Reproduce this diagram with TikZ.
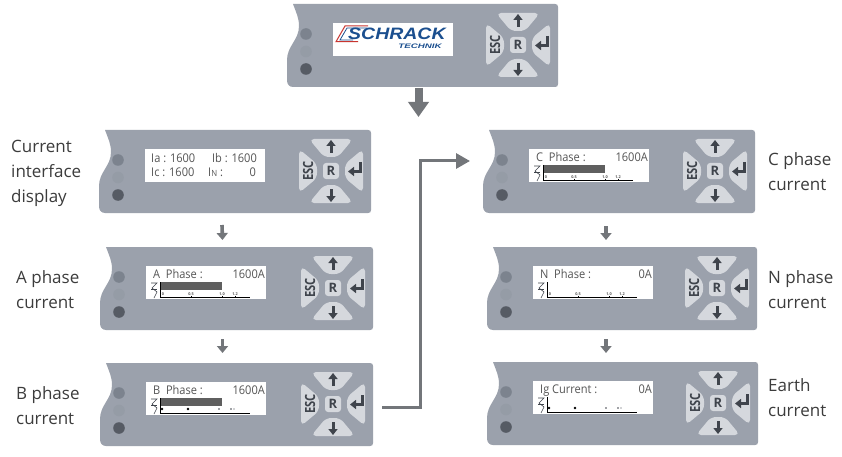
\documentclass[tikz,border=0pt]{standalone}
\usepackage{fontspec}
\setmainfont{Open Sans}
\newfontfamily\logofont{Liberation Sans}
\usetikzlibrary{arrows.meta,calc}
\definecolor{panelc}{HTML}{9BA1AC}
\definecolor{btnc}{HTML}{D5D8DD}
\definecolor{glyphc}{HTML}{3F444C}
\definecolor{ledone}{HTML}{7C838E}
\definecolor{ledtwo}{HTML}{959CA6}
\definecolor{ledthree}{HTML}{565B64}
\definecolor{arrowc}{HTML}{73767A}
\definecolor{labelc}{HTML}{3C3C3C}
\definecolor{scrc}{HTML}{555555}
\definecolor{barc}{HTML}{5F5F5F}
\definecolor{logoblue}{HTML}{1B4F8F}
\definecolor{logored}{HTML}{C8342F}
\tikzset{
 panelshape/.style={fill=panelc,draw=none},
 btnshape/.style={fill=btnc,draw=none,rounded corners=5pt},
 keyglyph/.style={line width=3pt,draw=glyphc,-{Triangle[width=9pt,length=6pt]}},
 scrtext/.style={font=\fontsize{12}{13}\selectfont,text=scrc,inner sep=0pt,xscale=0.92},
 ticktext/.style={font=\fontsize{3.8}{4}\selectfont\bfseries,text=scrc,inner sep=0pt},
 sidelabel/.style={font=\fontsize{17}{25}\selectfont,text=labelc,inner sep=0pt,align=left,anchor=north west},
 smallarrow/.style={draw=arrowc,line width=3.6pt,-{Triangle[width=11pt,length=7pt]}},
 bigarrow/.style={draw=arrowc,line width=8pt,-{Triangle[width=20pt,length=15pt]}},
 longarrow/.style={draw=arrowc,line width=3pt,-{Triangle[width=15pt,length=14pt]}},
 anchorbox/.style={inner sep=0pt,outer sep=0pt,anchor=north west},
}
% #1 name, #2 x, #3 y, #4 width, #5 screen content
\newcommand\mypanel[5]{%
\begin{scope}[shift={(#2,#3)}]
 \fill[panelshape] (0,0) .. controls (3,8) and (6,14) .. (6,22) .. controls (6,36) and (-6,42) .. (-6,56)
   -- (-6,76) .. controls (-6,80) and (-4,83) .. (0,83) -- (#4-3,83) .. controls (#4-1,83) and (#4,82) .. (#4,80)
   -- (#4,3) .. controls (#4,1) and (#4-1,0) .. (#4-3,0) -- cycle;
 \node[anchorbox,minimum width=#4pt,minimum height=83pt] (#1) at (0,0) {};
 \fill[ledone] (13,30) circle (5.8);
 \fill[ledtwo] (13,47.5) circle (5.8);
 \fill[ledthree] (13,65) circle (5.8);
 \begin{scope}[shift={(#4-40,41)}]
  \fill[btnshape] (-22,-32) -- (22,-32) -- (7,-14) -- (-7,-14) -- cycle;
  \fill[btnshape] (-22,32) -- (22,32) -- (7,14) -- (-7,14) -- cycle;
  \fill[btnshape] (-32,-22) -- (-32,22) -- (-14,7) -- (-14,-7) -- cycle;
  \fill[btnshape] (32,-22) -- (32,22) -- (14,7) -- (14,-7) -- cycle;
  \fill[btnc,rounded corners=3pt] (-8,-8) rectangle (8,8);
  \node[inner sep=0pt,text=glyphc,font=\fontsize{13}{13}\selectfont\bfseries] (#1r) at (0,0) {R};
  \node[inner sep=0pt,text=glyphc,rotate=90,xscale=0.8,font=\fontsize{14}{14}\selectfont\bfseries] (#1e) at (-23,0) {ESC};
  \draw[keyglyph] (0,-18) -- (0,-31);
  \draw[keyglyph] (0,18) -- (0,31);
  \draw[line width=3pt,draw=glyphc,-{Triangle[width=9pt,length=6pt]}] (29,-9) -- (29,0.5) -- (17,0.5);
 \end{scope}
 \begin{scope}[shift={(40,19)}]
  \fill[white] (0,0) rectangle (120,33);
  #5
 \end{scope}
\end{scope}}
\newcommand\chartbase{%
 \draw[black,line width=0.7pt] (14,31) -- (104,31);
 \draw[black,line width=1pt] (14,16) -- (14,32);
 \draw[glyphc,line width=0.6pt] (5,17) -- (11,17) -- (6,22) -- (11,26) -- (8,32);
 \draw[glyphc,line width=0.5pt] (5,23) -- (11,23);
}
\newcommand\charttick[1]{%
 \node[ticktext] (#1a) at (17,28.2) {0};
 \node[ticktext] (#1b) at (45,28.2) {0.5};
 \node[ticktext] (#1c) at (76,28.2) {1.0};
 \node[ticktext] (#1d) at (89,28.2) {1.2};
 \draw[black,line width=0.5pt] (45,29.8) -- (45,31) (76,29.8) -- (76,31) (89,29.8) -- (89,31);
}
\newcommand\chartdots{%
 \fill[black] (16,27) circle (1.4);
 \fill[black] (42,27) circle (1.4);
 \fill[glyphc] (73,27) circle (0.9);
 \fill[glyphc] (85,27) circle (0.8);
 \fill[glyphc] (88,27) circle (0.6);
}
\newcommand\chartbar{\fill[barc] (15,16) rectangle (76,24);}
\newcommand\phasetext[3]{%
 \node[scrtext,anchor=base west] (#1l) at (7,12) {#2};
 \node[scrtext,anchor=base east] (#1v) at (119,12) {#3};
}
\begin{document}
\begin{tikzpicture}[x=1pt,y=-1pt]
\useasboundingbox (0,0) rectangle (842,457);
\fill[white] (0,0) rectangle (842,457);
\mypanel{pz}{293}{4}{265}{%
 \draw[logored,line width=1pt] (35,3) -- (12,3) -- (3,18.7) -- (25,18.7);
 \draw[logoblue,line width=0.8pt] (34,5) -- (14,5) -- (7,17) -- (20,17);
 \node[inner sep=0pt,anchor=west,text=logoblue,xscale=1.18,font=\logofont\fontsize{16.5}{17}\selectfont\bfseries\itshape] (lg) at (15,11) {SCHRACK};
 \node[inner sep=0pt,anchor=east,text=logoblue,xscale=1.5,font=\logofont\fontsize{6.5}{7}\selectfont\bfseries\itshape] (lgb) at (109,23) {TECHNIK};
}
\mypanel{pa}{105}{130}{266}{%
 \node[scrtext,anchor=base west] (pat1) at (6,13) {Ia : 1600};
 \node[scrtext,anchor=base east] (pat2) at (112,13) {Ib : 1600};
 \node[scrtext,anchor=base west] (pat3) at (6,27) {Ic : 1600};
 \node[scrtext,anchor=base west] (pat4) at (63,27) {I{\fontsize{8.5}{9}\selectfont N} :};
 \node[scrtext,anchor=base east] (pat5) at (111,27) {0};
}
\mypanel{pb}{106}{247}{267}{%
 \phasetext{pb}{A\ \ Phase :}{1600A}\chartbar\chartbase\charttick{pbt}
}
\mypanel{pc}{106}{363}{267}{%
 \phasetext{pc}{B\ \ Phase :}{1600A}\chartbar\chartbase\chartdots
}
\mypanel{pd}{489}{130}{266}{%
 \phasetext{pd}{C\ \ Phase :}{1600A}\chartbar\chartbase\charttick{pdt}
}
\mypanel{pe}{493}{247}{264}{%
 \phasetext{pe}{N\ \ Phase :}{0A}\chartbase\charttick{pet}
}
\mypanel{pf}{493}{362}{265}{%
 \phasetext{pf}{Ig Current :}{0A}\chartbase\chartdots
}
% connectors
\draw[bigarrow] ([xshift=-7pt,yshift=-1pt]pz.south) -- ([xshift=-7pt,yshift=13pt]pz.south |- pa.north);
\draw[smallarrow] ([xshift=-16pt,yshift=-12pt]pa.south) -- ([xshift=-17pt,yshift=7pt]pb.north);
\draw[smallarrow] ([xshift=-17pt,yshift=-9pt]pb.south) -- ([xshift=-17pt,yshift=10pt]pc.north);
\draw[smallarrow] ([xshift=-16pt,yshift=-13pt]pd.south) -- ([xshift=-19pt,yshift=7pt]pe.north);
\draw[smallarrow] ([xshift=-19pt,yshift=-9pt]pe.south) -- ([xshift=-19.5pt,yshift=9pt]pf.north);
\coordinate (bendtop) at (420,161);
\draw[longarrow] ([xshift=9pt,yshift=-2.5pt]pc.east) -| (bendtop) -- ([xshift=-19pt,yshift=10.5pt]pd.west);
% labels
\node[sidelabel] (la) at (11,140) {Current\\interface\\display};
\node[sidelabel] (lb) at (16,270) {A phase\\current};
\node[sidelabel] (lc) at (16,386) {B phase\\current};
\node[sidelabel] (ld) at (768,152) {C phase\\current};
\node[sidelabel] (le) at (768,270) {N phase\\current};
\node[sidelabel] (lf) at (768,378) {Earth\\current};
\end{tikzpicture}
\end{document}
